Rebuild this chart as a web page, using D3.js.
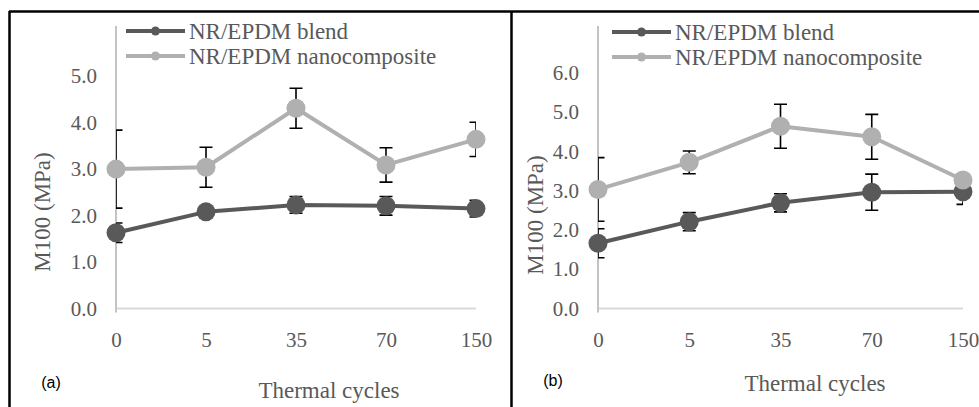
<!DOCTYPE html>
<html>
<head>
<meta charset="utf-8">
<script src="https://cdn.jsdelivr.net/npm/d3@7"></script>
<style>
  body { margin: 0; background: #fff; }
  svg { display: block; }
</style>
</head>
<body>
<svg class="chart" width="979" height="407"></svg>
<script>
// thermal cycles (category axis)
let cycles = ['0', '5', '35', '70', '150'];

// panel (a)
let blendA = [1.63, 2.08, 2.23, 2.21, 2.15];
let blendErrA = [0.21, 0.10, 0.18, 0.20, 0.18];
let nanoA = [3.00, 3.04, 4.31, 3.09, 3.64];
let nanoErrA = [0.84, 0.43, 0.43, 0.37, 0.37];
let yTicksA = [0, 1, 2, 3, 4, 5];

// panel (b)
let blendB = [1.66, 2.21, 2.69, 2.96, 2.97];
let blendErrB = [0.37, 0.23, 0.23, 0.46, 0.32];
let nanoB = [3.03, 3.72, 4.64, 4.37, 3.27];
let nanoErrB = [0.81, 0.29, 0.56, 0.57, 0.15];
let yTicksB = [0, 1, 2, 3, 4, 5, 6];

let seriesNames = ['NR/EPDM blend', 'NR/EPDM nanocomposite'];

let blendColor = '#595959';
let nanoColor = '#b0b0b0';
let textColor = '#595959';
let serif = '"Liberation Serif", "Times New Roman", serif';

let svg = d3.select('svg.chart');

// frame lines
svg.append('line').attr('x1', 9).attr('y1', 11.5).attr('x2', 979).attr('y2', 11.5)
  .style('stroke', '#000').style('stroke-width', '2.5px');
svg.append('line').attr('x1', 9.5).attr('y1', 11).attr('x2', 9.5).attr('y2', 407)
  .style('stroke', '#000').style('stroke-width', '2.5px');
svg.append('line').attr('x1', 511.5).attr('y1', 11).attr('x2', 511.5).attr('y2', 407)
  .style('stroke', '#000').style('stroke-width', '2.5px');

let panels = [
  {id: 'a', x0: 116, x1: 476, yTop: 6.08, blend: blendA, blendErr: blendErrA, nano: nanoA, nanoErr: nanoErrA,
   ticks: yTicksA, legX: 126, legY: 31, titleX: 329, titleY: 390, yLabX: 42, yLabY: 212, tagX: 51, tagY: 382},
  {id: 'b', x0: 598, x1: 963, yTop: 7.19, blend: blendB, blendErr: blendErrB, nano: nanoB, nanoErr: nanoErrB,
   ticks: yTicksB, legX: 612, legY: 32, titleX: 815, titleY: 383, yLabX: 535, yLabY: 215, tagX: 553, tagY: 380}
];

panels.forEach(p => drawPanel(p));

function drawPanel(p) {
  let g = svg.append('g').attr('class', 'panel-' + p.id);

  let x = d3.scalePoint().domain(cycles).range([p.x0, p.x1]);
  let y = d3.scaleLinear().domain([0, p.yTop]).range([308.5, 26]);

  // axis lines
  g.append('line')
    .attr('x1', p.x0).attr('x2', p.x1)
    .attr('y1', y(0)).attr('y2', y(0))
    .style('stroke', '#d9d9d9').style('stroke-width', '2px');
  g.append('line')
    .attr('x1', p.x0).attr('x2', p.x0)
    .attr('y1', y(0) + 4).attr('y2', y(p.yTop))
    .style('stroke', '#c4c4c4').style('stroke-width', '2px');

  // y tick labels
  let yAxis = g.append('g')
    .attr('transform', `translate(${p.x0},0)`)
    .call(d3.axisLeft(y).tickValues(p.ticks).tickSize(0).tickPadding(19).tickFormat(d3.format('.1f')));
  yAxis.select('.domain').remove();
  yAxis.selectAll('text')
    .style('font-family', serif)
    .style('font-size', '21px')
    .style('fill', textColor);

  // x tick labels
  let xAxis = g.append('g')
    .attr('transform', `translate(0,${y(0)})`)
    .call(d3.axisBottom(x).tickSize(0).tickPadding(24));
  xAxis.select('.domain').remove();
  xAxis.selectAll('text')
    .style('font-family', serif)
    .style('font-size', '21px')
    .style('fill', textColor);

  // error bars, clipped to the plot area
  let clipId = 'clip-' + p.id;
  svg.append('clipPath').attr('id', clipId)
    .append('rect')
    .attr('x', p.x0).attr('y', 0)
    .attr('width', p.x1 - p.x0).attr('height', 407);

  let errData = [];
  cycles.forEach((c, i) => {
    errData.push({c: c, v: p.blend[i], e: p.blendErr[i]});
    errData.push({c: c, v: p.nano[i], e: p.nanoErr[i]});
  });

  let errG = g.append('g').attr('clip-path', `url(#${clipId})`);
  let capW = 6.5;
  errG.selectAll('path.err')
    .data(errData)
    .enter()
    .append('path')
    .attr('class', 'err')
    .attr('d', d => {
      let cx = x(d.c);
      let yt = y(d.v + d.e);
      let yb = y(d.v - d.e);
      return `M${cx},${yt}V${yb}M${cx - capW},${yt}H${cx + capW}M${cx - capW},${yb}H${cx + capW}`;
    })
    .style('fill', 'none')
    .style('stroke', '#000')
    .style('stroke-width', '1.6px');

  // series lines and markers
  let series = [
    {name: seriesNames[0], vals: p.blend, color: blendColor},
    {name: seriesNames[1], vals: p.nano, color: nanoColor}
  ];

  let line = d3.line()
    .x((d, i) => x(cycles[i]))
    .y(d => y(d));

  series.forEach(s => {
    g.append('path')
      .datum(s.vals)
      .attr('d', line)
      .style('fill', 'none')
      .style('stroke', s.color)
      .style('stroke-width', '4px')
      .style('stroke-linejoin', 'round');

    g.selectAll(null)
      .data(s.vals)
      .enter()
      .append('circle')
      .attr('cx', (d, i) => x(cycles[i]))
      .attr('cy', d => y(d))
      .attr('r', 9.5)
      .style('fill', s.color);
  });

  // legend
  let leg = g.append('g').attr('transform', `translate(${p.legX},${p.legY})`);
  series.forEach((s, i) => {
    let row = leg.append('g').attr('transform', `translate(0,${i * 25})`);
    row.append('line')
      .attr('x1', 0).attr('x2', 59)
      .attr('y1', 0).attr('y2', 0)
      .style('stroke', s.color)
      .style('stroke-width', '4px');
    row.append('circle')
      .attr('cx', 29.5).attr('cy', 0).attr('r', 4.5)
      .style('fill', s.color);
    row.append('text')
      .attr('x', 63).attr('y', 0)
      .attr('dy', '0.35em')
      .style('font-family', serif)
      .style('font-size', '23px')
      .style('fill', textColor)
      .text(s.name);
  });

  // axis titles
  g.append('text')
    .attr('x', p.titleX).attr('y', p.titleY)
    .attr('dy', '0.35em')
    .attr('text-anchor', 'middle')
    .style('font-family', serif)
    .style('font-size', '23px')
    .style('fill', textColor)
    .text('Thermal cycles');

  g.append('text')
    .attr('transform', `translate(${p.yLabX},${p.yLabY}) rotate(-90)`)
    .attr('dy', '0.35em')
    .attr('text-anchor', 'middle')
    .style('font-family', serif)
    .style('font-size', '23px')
    .style('fill', textColor)
    .text('M100 (MPa)');

  // panel tag
  g.append('text')
    .attr('x', p.tagX).attr('y', p.tagY)
    .attr('dy', '0.35em')
    .attr('text-anchor', 'middle')
    .style('font-family', '"Liberation Sans", Arial, sans-serif')
    .style('font-size', '16px')
    .style('fill', '#000')
    .text(`(${p.id})`);
}
</script>
</body>
</html>
